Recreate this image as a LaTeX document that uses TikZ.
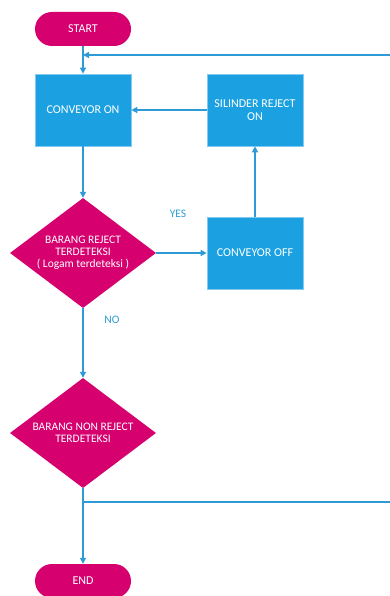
\documentclass[tikz,border=0pt]{standalone}
\usepackage{fontspec}
\setmainfont{Carlito}
\usetikzlibrary{shapes.geometric, arrows.meta}

\definecolor{flowpink}{RGB}{214,0,111}
\definecolor{flowblue}{RGB}{27,161,226}
\definecolor{linkblue}{RGB}{46,155,214}

\begin{document}
\begin{tikzpicture}[x=1pt, y=1pt,
    termnode/.style={fill=flowpink, text=white, rounded corners=17pt,
        minimum width=96pt, minimum height=34pt, inner sep=0pt,
        font=\fontsize{12}{12.5}\selectfont},
    procbox/.style={fill=flowblue, draw=flowblue!55!white, line width=0.6pt,
        text=white, minimum width=96pt, minimum height=72pt, inner sep=1pt,
        align=center, font=\fontsize{12}{12.5}\selectfont},
    decide/.style={diamond, fill=flowpink, text=white, aspect=1.33,
        inner xsep=-8pt, inner ysep=-4pt,
        minimum width=146pt, minimum height=110pt, align=center,
        font=\fontsize{11.5}{12}\selectfont},
    flowline/.style={linkblue, line width=1.3pt,
        -{Triangle[length=6pt, width=6pt]}},
    plainline/.style={linkblue, line width=1.3pt},
    tag/.style={text=linkblue, font=\fontsize{11.5}{12}\selectfont}]
    \useasboundingbox (0,0) rectangle (390,-596);

    % nodes
    \node[termnode] (start) at (83,-29) {START};
    \node[procbox] (convon) at (83,-110) {CONVEYOR ON};
    \node[procbox] (silinder) at (255,-110) {SILINDER REJECT\\ON};
    \node[decide] (reject) at (83,-253) {BARANG REJECT\\TERDETEKSI\\( Logam terdeteksi )};
    \node[procbox] (convoff) at (255,-253) {CONVEYOR OFF};
    \node[decide] (nonreject) at (83,-433) {BARANG NON REJECT\\TERDETEKSI};
    \node[termnode] (finish) at (83,-581) {END};

    \node[tag] (yes) at (178,-214) {YES};
    \node[tag] (no) at (112,-320) {NO};

    \coordinate (looptop) at (390,-55);
    \coordinate (loopbot) at (390,-502);

    % connectors
    \draw[flowline] (start) -- (convon);
    \draw[flowline] (looptop) -- (looptop -| convon);
    \draw[flowline] (convon) -- (reject);
    \draw[flowline] (reject) -- (convoff);
    \draw[flowline] (convoff) -- (silinder);
    \draw[flowline] (silinder) -- (convon);
    \draw[flowline] (reject) -- (nonreject);
    \draw[flowline] (nonreject) -- (finish);
    \draw[plainline] (nonreject |- loopbot) -- (loopbot);
\end{tikzpicture}
\end{document}
